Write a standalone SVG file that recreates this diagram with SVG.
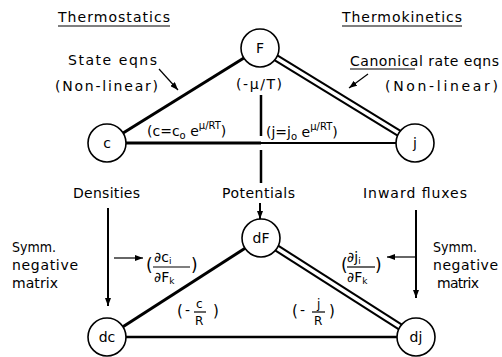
<svg xmlns="http://www.w3.org/2000/svg" width="502" height="357" viewBox="0 0 502 357">
<defs>
<style>
.t{font-family:"DejaVu Sans","Liberation Sans",sans-serif;font-size:14px;fill:#000}
.sm{font-size:10px}
.xs{font-size:9px}
.n circle{fill:#fff;stroke:#000;stroke-width:1.6}
.n text{text-anchor:middle}
.ln{stroke:#000;fill:none;stroke-linecap:butt}
.thin{stroke:#000;stroke-width:1.2;fill:none}
.dblo{stroke:#000;stroke-width:7.5;fill:none}
.dbli{stroke:#fff;stroke-width:3.5;fill:none}
</style>
<marker id="ah" viewBox="0 0 8 6" refX="8" refY="3" markerWidth="8" markerHeight="6" markerUnits="userSpaceOnUse" orient="auto">
<path d="M0,0 L8,3 L0,6 z" fill="#000"/>
</marker>
</defs>
<rect width="502" height="357" fill="#fff"/>

<g id="connectors">
<line class="ln" x1="107" y1="143" x2="260" y2="48" stroke-width="3"/>
<line class="dblo" x1="260" y1="48" x2="415" y2="143"/>
<line class="dbli" x1="260" y1="48" x2="415" y2="143"/>
<line class="ln" x1="107" y1="143" x2="261" y2="143" stroke-width="3"/>
<line class="ln" x1="261" y1="143" x2="415" y2="143" stroke-width="2"/>
<line class="ln" x1="261" y1="95" x2="261" y2="136" stroke-width="2.5"/>
<line class="ln" x1="261" y1="150" x2="261" y2="183" stroke-width="2.5"/>
<line class="ln" x1="260" y1="203" x2="260" y2="219" stroke-width="2" marker-end="url(#ah)"/>
<line class="ln" x1="107" y1="337" x2="261" y2="238" stroke-width="3"/>
<line class="dblo" x1="261" y1="238" x2="416" y2="337"/>
<line class="dbli" x1="261" y1="238" x2="416" y2="337"/>
<line class="ln" x1="107" y1="337" x2="416" y2="337" stroke-width="2.5"/>
<line class="ln" x1="108" y1="208" x2="108" y2="306" stroke-width="2" marker-end="url(#ah)"/>
<line class="ln" x1="416" y1="210" x2="416" y2="298" stroke-width="2" marker-end="url(#ah)"/>
<line class="thin" x1="114" y1="258" x2="143" y2="258" marker-end="url(#ah)"/>
<line class="thin" x1="415" y1="257" x2="387" y2="257" marker-end="url(#ah)"/>
<line class="thin" x1="159" y1="69" x2="178" y2="90" marker-end="url(#ah)"/>
<line class="thin" x1="368" y1="74" x2="349" y2="88" marker-end="url(#ah)"/>
</g>

<g id="node-F" class="n"><circle cx="260" cy="48" r="19"/><text class="t" x="260" y="53">F</text></g>
<g id="node-c" class="n"><circle cx="107" cy="143" r="19"/><text class="t" x="107" y="148">c</text></g>
<g id="node-j" class="n"><circle cx="415" cy="143" r="19"/><text class="t" x="415" y="148">j</text></g>
<g id="node-dF" class="n"><circle cx="261" cy="238" r="19"/><text class="t" x="261" y="243">dF</text></g>
<g id="node-dc" class="n"><circle cx="107" cy="337" r="19"/><text class="t" x="107" y="342">dc</text></g>
<g id="node-dj" class="n"><circle cx="416" cy="337" r="19"/><text class="t" x="416" y="342">dj</text></g>

<g id="labels">
<text class="t" x="58" y="22" textLength="112" lengthAdjust="spacing">Thermostatics</text>
<line class="thin" x1="58" y1="26" x2="170" y2="26"/>
<text class="t" x="342" y="22" textLength="120" lengthAdjust="spacing">Thermokinetics</text>
<line class="thin" x1="342" y1="26" x2="462" y2="26"/>
<text class="t" x="68" y="65" textLength="89" lengthAdjust="spacing">State eqns</text>
<text class="t" x="55" y="91" textLength="103" lengthAdjust="spacing">(Non-linear)</text>
<text class="t" x="350" y="66" textLength="149" lengthAdjust="spacing">Canonical rate eqns</text>
<line class="thin" x1="350" y1="69" x2="415" y2="69"/>
<text class="t" x="385" y="91" textLength="113" lengthAdjust="spacing">(Non-linear)</text>

<text class="t" x="236" y="89" textLength="46" lengthAdjust="spacing">(-μ/T)</text>
<text class="t" x="147" y="136">(c=c<tspan class="sm" dy="3">o</tspan><tspan dy="-3"> e</tspan><tspan class="sm" dy="-7">μ/RT</tspan><tspan dy="7">)</tspan></text>
<text class="t" x="266" y="137">(j=j<tspan class="sm" dy="3">o</tspan><tspan dy="-3"> e</tspan><tspan class="sm" dy="-7">μ/RT</tspan><tspan dy="7">)</tspan></text>

<text class="t" x="73" y="198" textLength="67" lengthAdjust="spacing">Densities</text>
<text class="t" x="222" y="198" textLength="73" lengthAdjust="spacing">Potentials</text>
<text class="t" x="363" y="198" textLength="104" lengthAdjust="spacing">Inward fluxes</text>

<text class="t" x="12" y="252" textLength="44" lengthAdjust="spacingAndGlyphs">Symm.</text>
<text class="t" x="12" y="270" textLength="66" lengthAdjust="spacing">negative</text>
<text class="t" x="12" y="288" textLength="46" lengthAdjust="spacing">matrix</text>
<text class="t" x="433" y="252" textLength="44" lengthAdjust="spacingAndGlyphs">Symm.</text>
<text class="t" x="433" y="270" textLength="65" lengthAdjust="spacing">negative</text>
<text class="t" x="437" y="288" textLength="42" lengthAdjust="spacing">matrix</text>

<text class="t" x="146" y="271" style="font-size:17px">(</text>
<text class="t" x="154" y="262">∂c<tspan class="xs" dy="2">i</tspan></text>
<line class="thin" x1="153" y1="267" x2="190" y2="267"/>
<text class="t" x="154" y="282">∂F<tspan class="xs" dy="2">k</tspan></text>
<text class="t" x="191" y="271" style="font-size:17px">)</text>

<text class="t" x="341" y="271" style="font-size:17px">(</text>
<text class="t" x="347" y="262">∂j<tspan class="xs" dy="2">i</tspan></text>
<line class="thin" x1="347" y1="267" x2="375" y2="267"/>
<text class="t" x="347" y="282">∂F<tspan class="xs" dy="2">k</tspan></text>
<text class="t" x="375" y="271" style="font-size:17px">)</text>

<text class="t" x="177" y="316" style="font-size:15px">(</text>
<text class="t" x="185" y="315">-</text>
<text class="t" x="196" y="308" style="font-size:12px">c</text>
<line class="thin" x1="194" y1="312" x2="206" y2="312"/>
<text class="t" x="195" y="325" style="font-size:12px">R</text>
<text class="t" x="213" y="316" style="font-size:15px">)</text>

<text class="t" x="292" y="316" style="font-size:15px">(</text>
<text class="t" x="300" y="315">-</text>
<text class="t" x="317" y="308" style="font-size:12px">j</text>
<line class="thin" x1="312" y1="312" x2="325" y2="312"/>
<text class="t" x="314" y="325" style="font-size:12px">R</text>
<text class="t" x="329" y="316" style="font-size:15px">)</text>
</g>
</svg>
